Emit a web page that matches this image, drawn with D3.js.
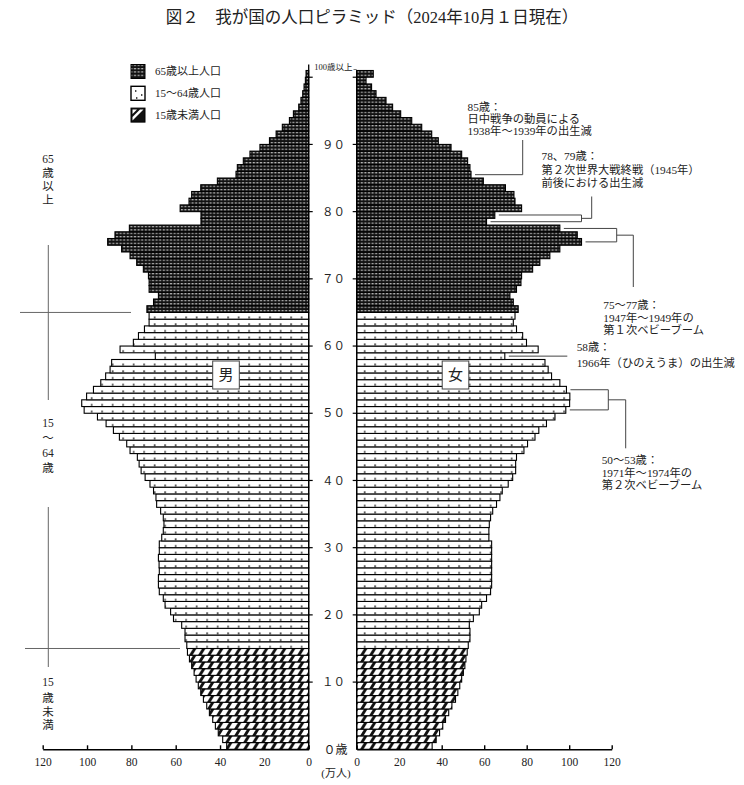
<!DOCTYPE html>
<html><head><meta charset="utf-8">
<script src="https://cdn.jsdelivr.net/npm/d3@7"></script>
<style>
body{margin:0;background:#fff}
svg{display:block}
text{font-family:"Liberation Serif","Noto Sans CJK JP",serif;fill:#222}
</style>
</head><body><svg id="c" width="744" height="785"></svg>
<script>
// ---------- data ----------
const ages = d3.range(0, 101); // 100 = 100歳以上
const male = [
  37.0,38.8,40.8,42.1,43.3,44.8,46.0,47.5,48.7,49.8,
  50.8,51.7,52.8,53.8,54.7,55.0,55.8,55.8,57.3,61.0,
  62.3,64.8,65.6,67.4,67.8,67.8,67.4,67.5,67.8,67.4,
  67.4,66.3,65.6,65.3,65.6,66.8,68.6,68.9,70.0,71.6,
  73.8,75.6,76.5,77.3,80.6,82.1,85.4,88.1,91.4,95.3,
  101.3,102.4,100.2,97.1,93.8,91.6,89.6,88.9,69.2,85.1,
  79.1,76.8,74.1,72.0,72.0,73.0,70.0,67.8,72.0,72.0,
  72.3,74.6,77.6,80.6,84.4,90.7,87.4,80.9,48.6,48.6,
  58.0,54.0,52.8,48.7,41.2,32.8,32.2,29.5,26.5,22.0,
  17.7,14.7,11.9,8.7,6.9,4.5,3.5,2.7,2.1,1.5,
  1.2
];
const female = [
  35.5,37.4,39.0,40.5,41.8,43.3,44.8,46.5,47.6,48.5,
  49.4,50.2,50.9,51.4,52.0,52.5,53.3,53.3,53.0,54.9,
  57.7,58.8,61.1,63.0,63.5,63.5,63.5,63.5,63.5,63.5,
  63.5,62.2,62.2,62.4,63.0,64.0,65.8,67.4,68.5,71.3,
  73.4,74.8,74.8,75.2,78.7,80.4,83.9,85.7,89.3,93.3,
  98.4,100.2,100.3,98.7,95.6,91.7,90.1,88.6,69.7,85.4,
  79.9,78.1,75.2,73.7,74.5,76.0,73.7,72.1,75.2,77.3,
  77.6,82.8,86.2,90.9,95.6,105.8,103.8,95.6,61.1,65.0,
  77.6,74.5,74.0,70.0,59.6,53.8,53.3,52.2,49.4,44.4,
  38.4,35.3,30.6,25.9,20.7,16.9,13.8,9.1,7.0,4.4,
  7.8
];
const xTicks = [0,20,40,60,80,100,120];
const ageTicks = [10,20,30,40,50,60,70,80,90];
const ageTickLabels = ["１０","２０","３０","４０","５０","６０","７０","８０","９０"];
const legendLabels = ["65歳以上人口","15～64歳人口","15歳未満人口"];
const groupSideLabels = [["65","歳","以","上"],["15","～","64","歳"],["15","歳","未","満"]];
const title = "図２　我が国の人口ピラミッド（2024年10月１日現在）";
const notes = [
  {ages:[85], lines:["85歳：","日中戦争の動員による","1938年～1939年の出生減"]},
  {ages:[79,78], lines:["78、79歳：","第２次世界大戦終戦（1945年）","前後における出生減"]},
  {ages:[77,75], lines:["75～77歳：","1947年～1949年の","第１次ベビーブーム"]},
  {ages:[58], lines:["58歳：","1966年（ひのえうま）の出生減"]},
  {ages:[53,50], lines:["50～53歳：","1971年～1974年の","第２次ベビーブーム"]}
];

// ---------- scales ----------
const svg = d3.select("#c");
const base = 749.3, top0 = 70.5;
const y = d3.scaleBand().domain(ages).range([base, top0]).padding(0);
const bw = y.bandwidth();
const xL = d3.scaleLinear().domain([0,120]).range([308.7, 42.7]);
const xR = d3.scaleLinear().domain([0,120]).range([356.7, 611.7]);
const yc = a => y(a) + bw/2;
const yb = a => base - a*bw; // boundary at age a

// ---------- patterns ----------
const defs = svg.append("defs");
const pOld = defs.append("pattern").attr("id","pOld").attr("patternUnits","userSpaceOnUse")
  .attr("x",0).attr("y",base).attr("width",3.6).attr("height",bw/2);
pOld.append("rect").attr("width",3.6).attr("height",bw/2).attr("fill","#111");
pOld.append("rect").attr("x",0.7).attr("y",1.0).attr("width",2.2).attr("height",1.0).attr("fill","#ddd");

const pMid = defs.append("pattern").attr("id","pMid").attr("patternUnits","userSpaceOnUse")
  .attr("x",2).attr("y",base).attr("width",10.5).attr("height",bw);
pMid.append("rect").attr("width",10.5).attr("height",bw).attr("fill","#fff");
pMid.append("rect").attr("x",5).attr("y",bw-2.6).attr("width",1.3).attr("height",2).attr("fill","#111");

const pYoung = defs.append("pattern").attr("id","pYoung").attr("patternUnits","userSpaceOnUse")
  .attr("x",0).attr("y",base).attr("width",9).attr("height",bw);
pYoung.append("rect").attr("width",9).attr("height",bw).attr("fill","#fff");
pYoung.append("polygon").attr("points",`0,${bw} 3.4,${bw} 7.6,0 4.2,0`).attr("fill","#111");

const fillFor = a => a >= 65 ? "url(#pOld)" : (a >= 15 ? "url(#pMid)" : "url(#pYoung)");

// ---------- title ----------
svg.append("text").attr("x",372).attr("y",23).attr("text-anchor","middle")
  .style("font-size","16.5px").text(title);

// ---------- bars ----------
const gL = svg.append("g");
gL.selectAll("rect").data(ages).join("rect")
  .attr("x", a => xL(male[a])).attr("y", a => y(a))
  .attr("width", a => xL(0) - xL(male[a])).attr("height", bw)
  .attr("fill", a => fillFor(a)).attr("stroke","#000").attr("stroke-width",1.1);
const gR = svg.append("g");
gR.selectAll("rect").data(ages).join("rect")
  .attr("x", xR(0)).attr("y", a => y(a))
  .attr("width", a => xR(female[a]) - xR(0)).attr("height", bw)
  .attr("fill", a => fillFor(a)).attr("stroke","#000").attr("stroke-width",1.1);

// zero lines
svg.append("line").attr("x1",xL(0)).attr("x2",xL(0)).attr("y1",top0-6).attr("y2",base).attr("stroke","#000").attr("stroke-width",1.3);
svg.append("line").attr("x1",xR(0)).attr("x2",xR(0)).attr("y1",top0).attr("y2",base).attr("stroke","#000").attr("stroke-width",1.3);

// ---------- axes ----------
const axL = svg.append("g").attr("transform",`translate(0,${base})`)
  .call(d3.axisBottom(xL).tickValues(xTicks).tickSize(-4).tickSizeOuter(0).tickPadding(9));
const axR = svg.append("g").attr("transform",`translate(0,${base})`)
  .call(d3.axisBottom(xR).tickValues(xTicks).tickSize(-4).tickSizeOuter(0).tickPadding(9));
[axL,axR].forEach(g=>{
  g.select(".domain").attr("stroke","#000").attr("stroke-width",1.6);
  g.selectAll(".tick line").attr("stroke","#000").attr("stroke-width",1.4);
  g.selectAll(".tick text").style("font-family","Liberation Serif").style("font-size","11.5px").attr("fill","#222");
});
svg.append("text").attr("x",336).attr("y",777).attr("text-anchor","middle").style("font-size","11px").text("(万人)");

// ---------- center age ticks / labels ----------
const cx = 333.5;
ageTicks.concat([100]).forEach(a=>{
  svg.append("line").attr("x1",xL(0)).attr("x2",xL(0)+4).attr("y1",yb(a)).attr("y2",yb(a)).attr("stroke","#000").attr("stroke-width",1.2);
  svg.append("line").attr("x1",xR(0)-4).attr("x2",xR(0)).attr("y1",yb(a)).attr("y2",yb(a)).attr("stroke","#000").attr("stroke-width",1.2);
});
svg.selectAll("text.age").data(ageTicks).join("text").attr("class","age")
  .attr("x",cx).attr("y",a=>yb(a)).attr("dy","0.36em").attr("text-anchor","middle")
  .style("font-size","11.5px").text((a,i)=>ageTickLabels[i]);
svg.append("text").attr("x",cx+2).attr("y",base).attr("dy","0.36em").attr("text-anchor","middle")
  .style("font-size","12px").text("０歳");
svg.append("text").attr("x",cx).attr("y",yb(101)).attr("dy","-0.1em").attr("text-anchor","middle")
  .style("font-size","8.5px").text("100歳以上");
svg.append("line").attr("x1",cx+20).attr("x2",xR(0)).attr("y1",yb(101)-1).attr("y2",yb(101)-1).attr("stroke","#555").attr("stroke-width",0.8);

// ---------- legend ----------
const legFill = ["url(#pOld)", null, null];
legendLabels.forEach((lab,i)=>{
  const ly = 64.5 + i*21.8, lx = 131;
  const g = svg.append("g");
  if(i===0){
    g.append("rect").attr("x",lx).attr("y",ly).attr("width",14).attr("height",14).attr("fill","url(#pOld)").attr("stroke","#000");
  } else if(i===1){
    g.append("rect").attr("x",lx).attr("y",ly).attr("width",14).attr("height",14).attr("fill","#fff").attr("stroke","#000").attr("stroke-width",1.4);
    [[4,4],[10,8],[5,11]].forEach(p=>g.append("rect").attr("x",lx+p[0]).attr("y",ly+p[1]).attr("width",1.4).attr("height",1.4).attr("fill","#000"));
  } else {
    g.append("rect").attr("x",lx).attr("y",ly).attr("width",14).attr("height",14).attr("fill","#111").attr("stroke","#000");
    g.append("polygon").attr("points",`${lx+1.5},${ly+9} ${lx+9},${ly+1.5} ${lx+12.5},${ly+1.5} ${lx+1.5},${ly+12.5}`).attr("fill","#fff");
    g.append("polygon").attr("points",`${lx+1.5},${ly+1.5} ${lx+6},${ly+1.5} ${lx+1.5},${ly+6}`).attr("fill","#fff");
  }
  g.append("text").attr("x",155).attr("y",ly+7).attr("dy","0.36em").style("font-size","11px").text(lab);
});

// ---------- side group labels ----------
const sideY = [[159,172.5,186,199.5],[423,438,453,467.5],[682,697.5,711.5,725]];
groupSideLabels.forEach((arr,i)=>arr.forEach((t,j)=>{
  svg.append("text").attr("x",48).attr("y",sideY[i][j]).attr("dy","0.36em").attr("text-anchor","middle")
    .style("font-size","11.5px").attr("fill","#444").text(t);
}));
const gray = "#666";
svg.append("line").attr("x1",48.3).attr("x2",48.3).attr("y1",245).attr("y2",400).attr("stroke",gray);
svg.append("line").attr("x1",20).attr("x2",131).attr("y1",yb(65)).attr("y2",yb(65)).attr("stroke",gray);
svg.append("line").attr("x1",48.3).attr("x2",48.3).attr("y1",507).attr("y2",667).attr("stroke",gray);
svg.append("line").attr("x1",25).attr("x2",180).attr("y1",yb(15)).attr("y2",yb(15)).attr("stroke",gray);

// ---------- 男 / 女 boxes ----------
[["男",226],["女",455.5]].forEach(([t,x])=>{
  svg.append("rect").attr("x",x-13.3).attr("y",361).attr("width",26.6).attr("height",28)
    .attr("fill","#fff").attr("stroke","#444").attr("stroke-width",1);
  svg.append("text").attr("x",x).attr("y",375).attr("dy","0.36em").attr("text-anchor","middle")
    .style("font-size","15px").attr("fill","#333").text(t);
});

// ---------- annotations ----------
const ln = (x1,y1,x2,y2)=>svg.append("line").attr("x1",x1).attr("y1",y1).attr("x2",x2).attr("y2",y2)
  .attr("stroke","#444").attr("stroke-width",1);
const end = a => xR(female[a]) + 4;
function textBlock(lines, x, y0, step){
  lines.forEach((t,i)=>svg.append("text").attr("x",x).attr("y",y0+i*step).attr("dy","0.36em")
    .style("font-size","11.3px").attr("fill","#333").text(t));
}
// 85
ln(end(85), yc(85), 522.7, yc(85)); ln(522.7, 140, 522.7, yc(85));
textBlock(notes[0].lines, 467.5, 106.5, 12.2);
// 78,79
ln(end(79), yc(79), 581.5, yc(79)); ln(end(78), yc(78), 581.5, yc(78));
ln(581.5, yc(79), 581.5, yc(78));
const m78 = (yc(79)+yc(78))/2;
ln(581.5, m78, 591.7, m78); ln(591.7, 196.5, 591.7, m78);
textBlock(notes[1].lines, 541.5, 156, 13.6);
// 75-77
ln(end(77), yc(77), 616.7, yc(77)); ln(end(75), yc(75), 616.7, yc(75));
ln(616.7, yc(77), 616.7, yc(75));
ln(616.7, yc(76), 633.3, yc(76)); ln(633.3, yc(76), 633.3, 287);
textBlock(notes[2].lines, 603.3, 305, 12.6);
// 58
ln(end(58), yc(58), 567.3, yc(58));
textBlock(notes[3].lines, 576.7, 347.3, 15.4);
// 50-53
ln(end(53), yc(53), 608.3, yc(53)); ln(end(50), yc(50), 608.3, yc(50));
ln(608.3, yc(53), 608.3, yc(50));
const m50 = (yc(53)+yc(50))/2;
ln(608.3, m50, 625.7, m50); ln(625.7, m50, 625.7, 448.3);
textBlock(notes[4].lines, 601.7, 460, 12.6);
</script>
</body></html>
